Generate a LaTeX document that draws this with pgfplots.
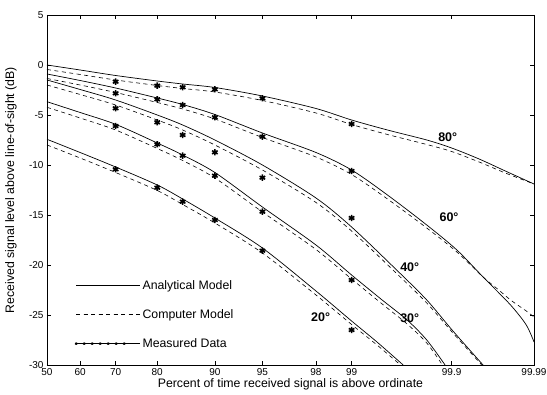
\documentclass[border=0pt]{standalone}
\usepackage{pgfplots}
\pgfplotsset{compat=1.18}
\usepackage{fontspec}
\setmainfont{Liberation Sans}
\pgfplotsset{
 mymeaslegend/.style={legend image code/.code={\pgfsetlinewidth{0.8pt}\pgfsetplotmarksize{1.3pt}\foreach \xx in {0,8,16,24,32,40,48}{\begin{scope}[xshift=\xx pt]\pgfuseplotmark{asterisk}\end{scope}} \path (0pt,0pt) -- (64pt,0pt);}},
 mylinelegend/.style={legend image code/.code={\draw[##1] (0pt,0pt) -- (49pt,0pt); \path (0pt,0pt) -- (64pt,0pt);}},
}
\begin{document}
\begin{tikzpicture}
\useasboundingbox (-47pt,-30pt) rectangle (500pt,365pt);
\begin{axis}[
 at={(0pt,0pt)}, anchor=south west, scale only axis,
 width=487pt, height=350pt,
 xmin=0, xmax=3.7190, ymin=-30, ymax=5,
 xtick={0,0.2533,0.5244,0.8416,1.2816,1.6449,2.0537,2.3263,3.0902,3.7190},
 xticklabels={50,60,70,80,90,95,98,99,99.9,99.99},
 ytick={-30,-25,-20,-15,-10,-5,0,5},
 yticklabels={-30,-25,-20,-15,-10,-5,0,5},
 tick align=inside, xtick pos=both, ytick pos=both,
 xticklabel pos=lower, yticklabel pos=left,
 major tick length=4pt,
 tick style={black, line width=0.5pt},
 axis line style={line width=0.7pt},
 ticklabel style={font=\fontsize{10}{12}\selectfont},
 xlabel={Percent of time received signal is above ordinate},
 ylabel={Received signal level above line-of-sight (dB)},
 label style={font=\fontsize{12.3}{14}\selectfont},
 xlabel style={at={(axis description cs:0.5,-0.054)}, anchor=center},
 ylabel style={at={(axis description cs:-0.074,0.5)}, anchor=center},
 legend style={draw=none, fill=none, at={(axis description cs:0.051,0.253)}, anchor=north west,
   row sep=14.5pt, font=\fontsize{12.3}{14}\selectfont},
 legend cell align=left,
 mylinelegend,
 solid line/.style={black, line width=0.7pt, smooth, tension=0.5},
 dash line/.style={black, line width=0.6pt, dash pattern=on 4pt off 3.5pt, smooth, tension=0.5},
 meas/.style={black, only marks, mark=asterisk, mark size=3.2pt, line width=1.6pt},
]
% ---------- 80 deg ----------
\addplot[solid line] coordinates {(0,0) (0.253,-0.5) (0.524,-1.05) (0.842,-1.6) (1.036,-1.9) (1.282,-2.25) (1.645,-3.1) (2.054,-4.35) (2.326,-5.5) (2.6,-6.5) (2.9,-7.5) (3.09,-8.3) (3.3,-9.4) (3.5,-10.6) (3.719,-11.9)};
\addlegendentry{Analytical Model}
\addplot[dash line] coordinates {(0,-0.45) (0.253,-0.95) (0.524,-1.5) (0.842,-2.05) (1.036,-2.35) (1.282,-2.7) (1.645,-3.55) (2.054,-4.8) (2.326,-5.95) (2.6,-6.95) (2.9,-7.95) (3.09,-8.65) (3.3,-9.7) (3.5,-10.8) (3.719,-11.9)};
\addlegendentry{Computer Model}
\addplot[meas, mymeaslegend] coordinates {(0.524,-1.67) (0.842,-2.07) (1.036,-2.23) (1.282,-2.43) (1.645,-3.33) (2.326,-5.9)};
\addlegendentry{Measured Data}
% ---------- 60 deg ----------
\addplot[solid line, forget plot] coordinates {(0,-0.9) (0.253,-1.55) (0.524,-2.3) (0.842,-3.3) (1.036,-3.95) (1.282,-4.95) (1.645,-6.8) (2.054,-8.75) (2.326,-10.5) (2.6,-13.0) (2.9,-16.0) (3.13,-18.5) (3.33,-21.2) (3.54,-24.0) (3.66,-26.0) (3.719,-27.7)};
\addplot[dash line, forget plot] coordinates {(0,-1.35) (0.253,-2.0) (0.524,-2.75) (0.842,-3.75) (1.036,-4.4) (1.282,-5.4) (1.645,-7.25) (2.054,-9.2) (2.326,-10.95) (2.6,-13.4) (2.9,-16.3) (3.13,-18.7) (3.33,-21.2) (3.45,-22.5) (3.54,-23.5) (3.66,-24.6) (3.719,-25.2)};
\addplot[meas, forget plot] coordinates {(0.524,-2.83) (0.842,-3.43) (1.036,-4.0) (1.282,-5.23) (1.645,-7.17) (2.326,-10.6)};
% ---------- 40 deg ----------
\addplot[solid line, forget plot] coordinates {(0,-1.5) (0.253,-2.45) (0.524,-3.5) (0.842,-5.0) (1.036,-6.0) (1.282,-7.5) (1.645,-10.0) (2.054,-13.3) (2.326,-16.2) (2.67,-20.5) (2.9,-23.5) (3.1,-26.6) (3.33,-30)};
\addplot[dash line, forget plot] coordinates {(0,-2.0) (0.253,-2.95) (0.524,-4.0) (0.842,-5.5) (1.036,-6.5) (1.282,-8.0) (1.645,-10.5) (2.054,-13.75) (2.326,-16.6) (2.67,-20.85) (2.9,-23.8) (3.1,-26.8) (3.32,-30)};
\addplot[meas, forget plot] coordinates {(0.524,-4.33) (0.842,-5.73) (1.036,-7.0) (1.282,-8.73) (1.645,-11.27) (2.326,-15.3)};
% ---------- 30 deg ----------
\addplot[solid line, forget plot] coordinates {(0,-3.67) (0.253,-4.75) (0.524,-5.93) (0.842,-7.8) (1.036,-9.0) (1.282,-10.75) (1.645,-14.2) (2.054,-18.0) (2.326,-21.0) (2.55,-23.4) (2.75,-25.5) (2.9,-27.5) (3.04,-30)};
\addplot[dash line, forget plot] coordinates {(0,-4.23) (0.253,-5.3) (0.524,-6.5) (0.842,-8.35) (1.036,-9.55) (1.282,-11.3) (1.645,-14.7) (2.054,-18.45) (2.326,-21.4) (2.55,-23.8) (2.75,-25.9) (2.9,-27.8) (3.02,-30)};
\addplot[meas, forget plot] coordinates {(0.524,-6.1) (0.842,-7.93) (1.036,-9.07) (1.282,-11.07) (1.645,-14.67) (2.326,-21.5)};
% ---------- 20 deg ----------
\addplot[solid line, forget plot] coordinates {(0,-7.43) (0.253,-8.75) (0.524,-10.2) (0.842,-12.0) (1.036,-13.4) (1.282,-15.3) (1.645,-18.3) (2.054,-22.6) (2.326,-25.6) (2.52,-27.7) (2.72,-30)};
\addplot[dash line, forget plot] coordinates {(0,-8.0) (0.253,-9.3) (0.524,-10.75) (0.842,-12.55) (1.036,-13.95) (1.282,-15.8) (1.645,-18.8) (2.054,-23.0) (2.326,-25.95) (2.52,-28.0) (2.70,-30)};
\addplot[meas, forget plot] coordinates {(0.524,-10.43) (0.842,-12.27) (1.036,-13.67) (1.282,-15.5) (1.645,-18.57) (2.326,-26.5)};
% ---------- labels ----------
\begin{scope}[every node/.style={font=\fontsize{12.5}{14}\selectfont\bfseries}]
\node at (axis cs:3.06,-7.2) {80°};
\node at (axis cs:3.07,-15.2) {60°};
\node at (axis cs:2.77,-20.2) {40°};
\node at (axis cs:2.77,-25.3) {30°};
\node at (axis cs:2.09,-25.2) {20°};
\end{scope}
\end{axis}
\end{tikzpicture}
\end{document}
